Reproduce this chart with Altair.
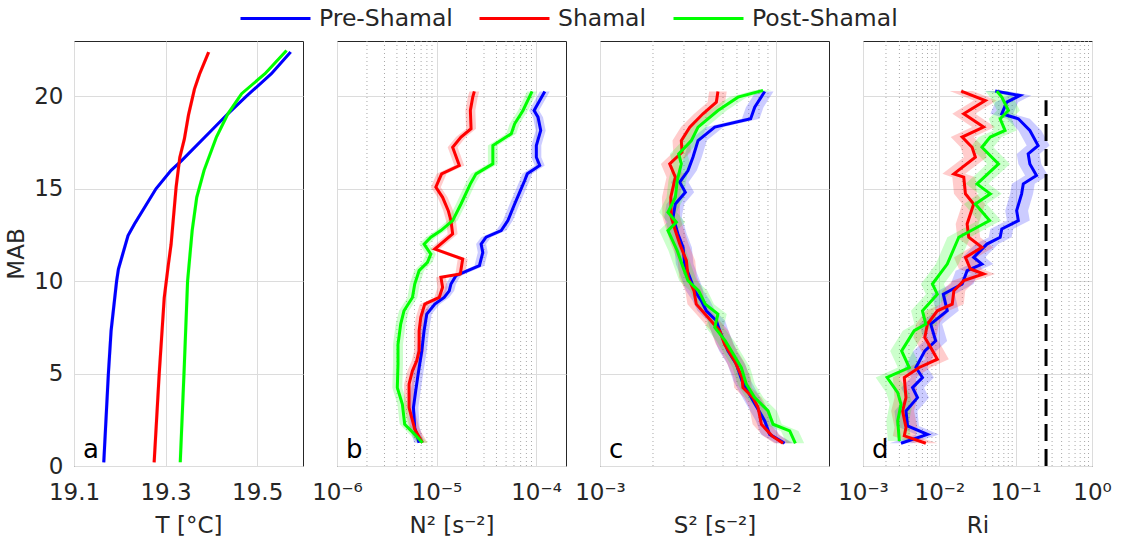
import altair as alt
import pandas as pd

FONT = "DejaVu Sans"
SERIES = ["Pre-Shamal", "Shamal", "Post-Shamal"]
COLORS = ["#0000ff", "#ff0000", "#00ff00"]

# ---------------- panel a : temperature (deg C) ----------------
pre_T_mab = [0.2, 4.97, 7.32, 10.0, 10.66, 12.47, 13.1, 15.0, 16.0, 16.53, 18.16, 19.06, 20.0, 21.23, 22.4]
pre_T = [19.165, 19.175, 19.181, 19.193, 19.197, 19.218, 19.232, 19.279, 19.312, 19.335, 19.40, 19.436, 19.476, 19.531, 19.573]
sha_T_mab = [0.2, 4.97, 9.1, 10.9, 12.0, 15.1, 16.7, 17.7, 19.0, 20.4, 21.2, 22.4]
sha_T = [19.275, 19.286, 19.297, 19.306, 19.312, 19.323, 19.331, 19.341, 19.35, 19.363, 19.374, 19.394]
post_T_mab = [0.2, 5.51, 10.0, 12.74, 14.54, 16.0, 17.8, 19.06, 20.15, 21.23, 22.49]
post_T = [19.332, 19.341, 19.348, 19.358, 19.368, 19.384, 19.411, 19.436, 19.466, 19.517, 19.564]

# ---------------- panel b : log10 N^2 (s^-2) ----------------
pre_N2_mab = [1.26, 2.08, 3.16, 4.07, 4.97, 6.23, 7.32, 8.22, 8.76, 9.12, 9.48, 9.85, 10.30, 10.84, 11.56,
              12.01, 12.38, 12.74, 13.28, 14.18, 14.81, 15.45, 15.81, 16.26, 16.71, 17.34, 18.16, 18.88,
              19.24, 19.69, 20.27]
pre_N2_log = [-5.175, -5.219, -5.232, -5.209, -5.185, -5.148, -5.125, -5.098, -5.017, -4.923, -4.872, -4.855,
              -4.805, -4.569, -4.535, -4.552, -4.502, -4.35, -4.283, -4.215, -4.165, -4.114, -4.088, -3.963,
              -3.997, -3.997, -3.953, -3.98, -4.02, -3.973, -3.912]
sha_N2_mab = [1.26, 1.99, 3.16, 4.43, 5.15, 5.69, 6.23, 7.32, 8.04, 8.76, 9.12, 9.67, 10.21, 10.39, 11.20,
              11.74, 12.56, 13.28, 13.82, 14.54, 15.09, 15.81, 16.26, 17.25, 17.80, 18.25, 19.24, 19.96, 20.27]
sha_N2_log = [-5.141, -5.219, -5.276, -5.276, -5.242, -5.199, -5.175, -5.175, -5.158, -5.118, -4.973, -4.939,
              -4.956, -4.761, -4.737, -5.017, -4.838, -4.855, -4.882, -4.939, -5.007, -4.949, -4.771, -4.838,
              -4.754, -4.653, -4.66, -4.636, -4.62]
post_N2_mab = [1.26, 1.71, 2.26, 3.34, 4.24, 5.51, 6.59, 7.68, 8.40, 9.12, 9.85, 10.57, 11.02, 11.47, 12.01,
               12.38, 12.74, 13.28, 14.18, 15.27, 15.81, 16.35, 17.34, 17.98, 18.52, 19.24, 20.27]
post_N2_log = [-5.141, -5.219, -5.32, -5.343, -5.394, -5.387, -5.387, -5.36, -5.327, -5.242, -5.219, -5.175,
               -5.091, -5.057, -5.125, -5.057, -4.956, -4.838, -4.754, -4.66, -4.603, -4.434, -4.434, -4.249,
               -4.215, -4.131, -4.04]

# ---------------- panel c : log10 S^2 (s^-2) ----------------
pre_S2_mab = [1.23, 1.71, 2.44, 3.70, 4.61, 5.51, 6.23, 7.32, 7.86, 8.40, 8.94, 9.48, 10.21, 10.93, 11.83,
              12.56, 13.46, 14.18, 14.81, 15.36, 15.99, 16.71, 17.61, 18.34, 18.79, 19.42, 20.27]
pre_S2_log = [-1.951, -2.036, -2.064, -2.14, -2.193, -2.225, -2.273, -2.32, -2.339, -2.396, -2.424, -2.462,
              -2.49, -2.519, -2.528, -2.557, -2.585, -2.572, -2.515, -2.547, -2.5, -2.472, -2.443, -2.348,
              -2.144, -2.121, -2.064]
sha_S2_mab = [1.23, 1.63, 2.26, 3.16, 3.70, 4.24, 4.79, 5.69, 6.59, 7.32, 8.04, 8.76, 9.48, 10.21, 11.11,
              12.01, 12.74, 13.46, 14.54, 15.63, 16.35, 16.98, 17.61, 18.34, 19.06, 19.69, 20.27]
sha_S2_log = [-1.96, -2.023, -2.083, -2.102, -2.131, -2.188, -2.193, -2.235, -2.292, -2.32, -2.386, -2.453,
              -2.466, -2.5, -2.509, -2.547, -2.572, -2.595, -2.598, -2.572, -2.604, -2.534, -2.538, -2.49,
              -2.415, -2.339, -2.33]
post_S2_mab = [1.23, 1.90, 2.26, 2.98, 3.70, 4.43, 5.33, 6.23, 6.77, 7.50, 8.22, 8.76, 9.48, 10.03, 10.75,
               11.65, 12.74, 13.19, 13.73, 14.54, 15.45, 16.35, 16.89, 17.61, 18.34, 19.24, 19.96, 20.33]
post_S2_log = [-1.89, -1.922, -2.017, -2.045, -2.121, -2.169, -2.197, -2.254, -2.288, -2.348, -2.33, -2.402,
               -2.439, -2.5, -2.528, -2.561, -2.614, -2.566, -2.614, -2.572, -2.561, -2.538, -2.553, -2.481,
               -2.443, -2.33, -2.216, -2.074]

# ---------------- panel d : log10 Ri ----------------
pre_Ri_mab = [1.23, 1.71, 2.17, 2.98, 3.70, 4.24, 4.79, 5.33, 6.23, 6.77, 7.68, 8.40, 9.30, 9.85, 10.57,
              10.93, 11.29, 12.01, 12.38, 12.83, 13.28, 13.82, 14.73, 15.27, 15.72, 16.35, 16.89, 17.34,
              18.16, 18.79, 19.06, 19.69, 20.05, 20.29]
pre_Ri_log = [-2.502, -2.156, -2.416, -2.437, -2.286, -2.351, -2.221, -2.307, -2.19, -2.048, -2.113, -1.896,
              -1.948, -1.701, -1.636, -1.442, -1.55, -1.377, -1.203, -1.182, -0.965, -0.987, -0.922, -0.9,
              -0.727, -0.814, -0.836, -0.706, -0.814, -0.965, -1.182, -1.117, -0.944, -1.268]
sha_Ri_mab = [1.23, 1.63, 2.08, 2.98, 3.70, 4.79, 5.33, 5.78, 6.41, 6.95, 7.68, 8.40, 8.76, 9.48, 10.03,
              10.39, 10.66, 11.29, 11.83, 12.38, 13.10, 14.18, 14.73, 15.63, 15.81, 16.71, 17.25, 17.80,
              18.34, 19.06, 19.78, 20.29]
sha_Ri_log = [-2.177, -2.459, -2.437, -2.481, -2.437, -2.459, -2.264, -2.026, -2.113, -2.19, -2.156, -2.026,
              -1.831, -1.81, -1.68, -1.42, -1.593, -1.658, -1.442, -1.615, -1.636, -1.55, -1.658, -1.68,
              -1.81, -1.528, -1.571, -1.701, -1.42, -1.68, -1.398, -1.714]
post_Ri_mab = [1.35, 2.44, 3.34, 3.97, 4.79, 5.33, 6.23, 7.32, 7.68, 8.40, 9.30, 9.85, 10.93, 12.38, 13.28,
               14.18, 14.73, 15.27, 16.35, 17.25, 17.80, 18.16, 18.79, 19.24, 19.96, 20.29]
post_Ri_log = [-2.524, -2.545, -2.502, -2.545, -2.684, -2.394, -2.494, -2.329, -2.177, -2.221, -2.026, -2.091,
               -1.896, -1.745, -1.342, -1.528, -1.333, -1.506, -1.225, -1.442, -1.333, -1.139, -1.203, -1.095,
               -1.182, -1.247]

RI_CRIT = [0.25]
RI_CRIT_TOP = [19.8]

# half-widths of the shaded uncertainty bands (deg C for a, decades for b-d)
BAND_T, BAND_N2, BAND_S2, BAND_RI = 0.004, 0.05, 0.05, 0.15

W, H = 229, 425
GRID = "#dcdcdc"
YSCALE = alt.Scale(domain=[0, 23], nice=False, zero=False)
CSCALE = alt.Scale(domain=SERIES, range=COLORS)
SUP = "['\u2070','\u00b9','\u00b2','\u00b3','\u2074','\u2075','\u2076','\u2077','\u2078','\u2079']"
LOG_LABEL = ("'10' + (datum.value < 1 ? '\u207b' : '') + " + SUP +
             "[abs(round(log(datum.value) / LN10))]")


def build_df(triples, log, spread):
    rows = []
    for name, mab, vals in triples:
        for i, (m, v) in enumerate(zip(mab, vals)):
            if log:
                rows.append(dict(series=name, idx=i, mab=m, val=10 ** v,
                                 lo=10 ** (v - spread), hi=10 ** (v + spread)))
            else:
                rows.append(dict(series=name, idx=i, mab=m, val=v, lo=v - spread, hi=v + spread))
    return pd.DataFrame(rows)


def x_axis(title, values, log):
    kw = dict(values=values, title=title, grid=True, ticks=False, domain=False,
              labelFlush=False, labelOverlap=False, labelPadding=15, titlePadding=10)
    if log:
        kw["labelExpr"] = LOG_LABEL
    else:
        kw["format"] = ".1f"
    return alt.Axis(**kw)


def y_axis(first):
    if first:
        return alt.Axis(values=[0, 5, 10, 15, 20], title="MAB", grid=True, ticks=False,
                        domain=False, labelPadding=11, titlePadding=5)
    return alt.Axis(values=[0, 5, 10, 15, 20], title=None, labels=False, grid=True,
                    ticks=False, domain=False)


# the legend's stroke symbols are 70 px wide, and Vega lays each entry out as a 70 px square
LEGEND = alt.Legend(orient="none", legendX=165, legendY=-59, direction="horizontal", title=None,
                    symbolType="stroke", symbolSize=4900, symbolStrokeWidth=3,
                    labelFontSize=23.5, labelFont=FONT, labelColor="#262626", labelOffset=7,
                    columnPadding=20, labelLimit=0, padding=0)


def make_panel(df, xscale, xaxis, letter, first, minor=None, rule=None):
    ye = alt.Y("mab:Q", scale=YSCALE, axis=y_axis(first))
    xe = alt.X("val:Q", scale=xscale, axis=xaxis)
    layers = []
    if minor:
        mdf = pd.DataFrame({"val": minor})
        layers.append(alt.Chart(mdf).mark_rule(color="#a8a8a8", strokeDash=[1, 3], strokeWidth=1)
                      .encode(x=xe))
    for name, col in zip(SERIES, COLORS):
        sub = df[df["series"] == name]
        layers.append(alt.Chart(sub).mark_area(orient="horizontal", color=col, opacity=0.2).encode(
            y=ye, x=alt.X("lo:Q", scale=xscale, axis=xaxis, stack=False), x2="hi:Q"))
    layers.append(alt.Chart(df).mark_line(strokeWidth=3).encode(
        y=ye, x=xe,
        color=alt.Color("series:N", scale=CSCALE, legend=LEGEND if first else None),
        order="idx:Q"))
    if rule is not None:
        layers.append(alt.Chart(rule).mark_rule(color="black", strokeWidth=3, strokeDash=[17, 8]).encode(
            x=xe, y=alt.Y("y0:Q", scale=YSCALE, axis=y_axis(first)), y2="y1:Q"))
    layers.append(alt.Chart(pd.DataFrame({"t": [letter]})).mark_text(
        align="left", baseline="alphabetic", fontSize=26, font=FONT, color="black").encode(
        text="t:N", x=alt.value(9), y=alt.value(H - 8)))
    return alt.layer(*layers).properties(width=W, height=H)


df_a = build_df([(SERIES[0], pre_T_mab, pre_T), (SERIES[1], sha_T_mab, sha_T),
                 (SERIES[2], post_T_mab, post_T)], False, BAND_T)
df_b = build_df([(SERIES[0], pre_N2_mab, pre_N2_log), (SERIES[1], sha_N2_mab, sha_N2_log),
                 (SERIES[2], post_N2_mab, post_N2_log)], True, BAND_N2)
df_c = build_df([(SERIES[0], pre_S2_mab, pre_S2_log), (SERIES[1], sha_S2_mab, sha_S2_log),
                 (SERIES[2], post_S2_mab, post_S2_log)], True, BAND_S2)
df_d = build_df([(SERIES[0], pre_Ri_mab, pre_Ri_log), (SERIES[1], sha_Ri_mab, sha_Ri_log),
                 (SERIES[2], post_Ri_mab, post_Ri_log)], True, BAND_RI)
rule_d = pd.DataFrame({"val": RI_CRIT, "y0": [0], "y1": RI_CRIT_TOP})


def minor_ticks(lo_exp, hi_exp, vmax):
    return [k * 10.0 ** e for e in range(lo_exp, hi_exp) for k in range(2, 10) if k * 10.0 ** e < vmax * 0.999]


pa = make_panel(df_a, alt.Scale(domain=[19.1, 19.6], nice=False, zero=False),
                x_axis("T [°C]", [19.1, 19.3, 19.5], False), "a", True)
pb = make_panel(df_b, alt.Scale(type="log", domain=[1e-6, 2e-4], nice=False),
                x_axis("N\u00b2 [s\u207b\u00b2]", [1e-6, 1e-5, 1e-4], True), "b", False,
                minor=minor_ticks(-6, -3, 2e-4))
pc = make_panel(df_c, alt.Scale(type="log", domain=[1e-3, 2e-2], nice=False),
                x_axis("S\u00b2 [s\u207b\u00b2]", [1e-3, 1e-2], True), "c", False,
                minor=minor_ticks(-3, -1, 2e-2))
pd_ = make_panel(df_d, alt.Scale(type="log", domain=[1e-3, 1.0], nice=False),
                 x_axis("Ri", [1e-3, 1e-2, 1e-1, 1e0], True), "d", False,
                 minor=minor_ticks(-3, 0, 1.0), rule=rule_d)

chart = alt.hconcat(pa, pb, pc, pd_, spacing=34, bounds="flush").resolve_scale(
    color="independent", x="independent"
).properties(
    padding={"left": 5, "top": -19, "right": 5, "bottom": 5}
).configure_view(
    stroke="#262626", strokeWidth=1
).configure_axis(
    labelFont=FONT, titleFont=FONT, labelFontSize=23, titleFontSize=23,
    labelColor="#262626", titleColor="#262626", titleFontWeight="normal",
    gridColor=GRID, gridWidth=1
)

chart.save("out.html", embed_options={"renderer": "svg", "actions": False})
